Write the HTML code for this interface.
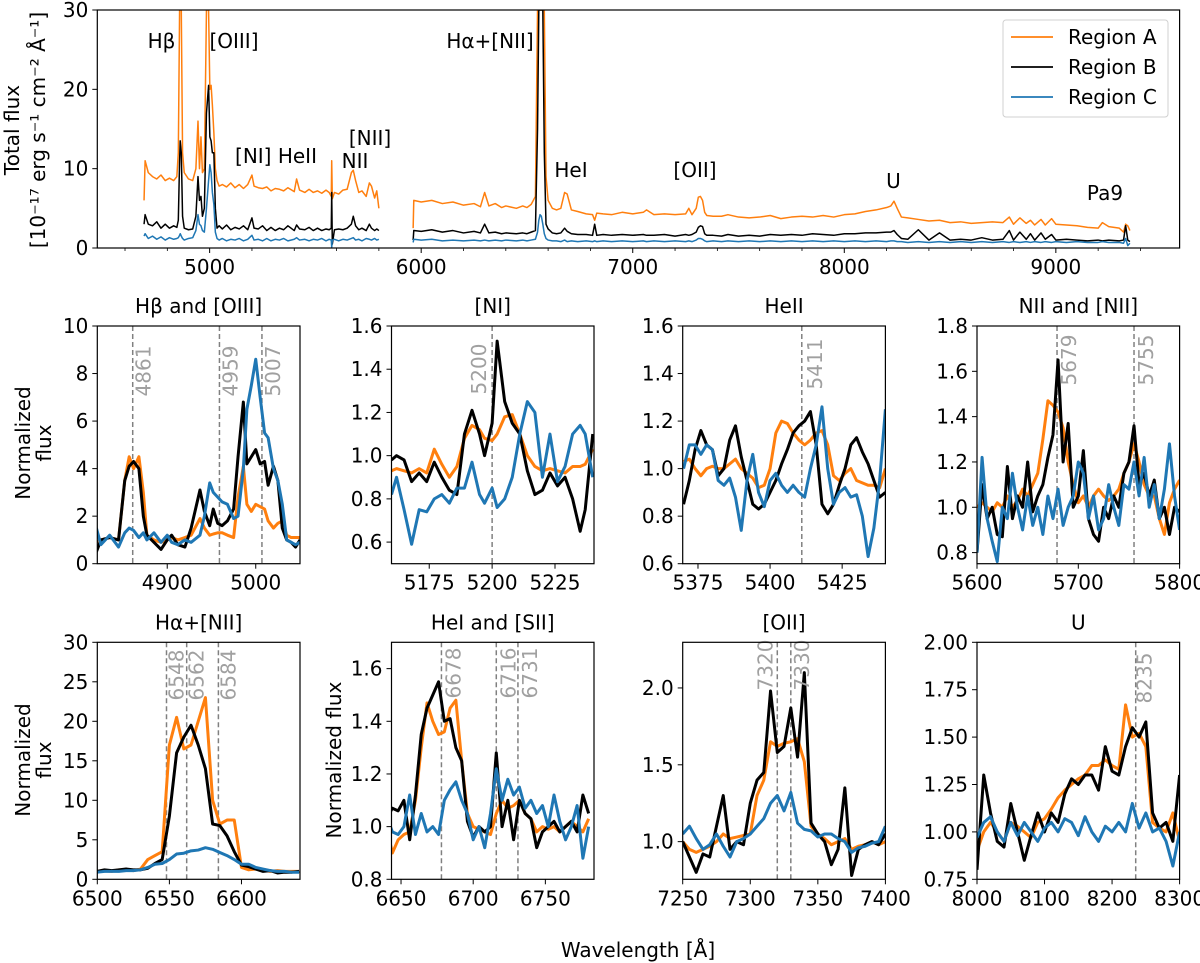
<!DOCTYPE html>
<html><head><meta charset="utf-8"><style>
html,body{margin:0;padding:0;background:#fff;}
svg{display:block;font-family:"DejaVu Sans","Liberation Sans",sans-serif;}
</style></head><body>
<svg id="fig" width="1200" height="963" viewBox="0 0 1200 963" xmlns="http://www.w3.org/2000/svg">
<defs id="defs"></defs>
</svg>
<script>
// ---------- TOP PANEL DATA ----------
const topLam1=[4690,4695,4710,4730,4750,4770,4790,4810,4830,4845,4852,4858,4861,4866,4872,4880,4900,4920,4935,4945,4952,4959,4966,4975,4985,4995,5001,5007,5013,5020,5027,5035,5045,5060,5080,5100,5120,5140,5160,5180,5200,5210,5230,5250,5270,5290,5310,5330,5350,5370,5400,5411,5425,5450,5470,5490,5510,5530,5550,5565,5575,5577,5580,5590,5610,5630,5650,5670,5679,5690,5705,5720,5740,5755,5765,5780,5790,5800];
const topA1=[6,11,9.5,9,8.7,9.2,8.5,8.8,8.5,9,12,30,30,30,12,9.5,8.7,8.5,10,16,10,14,9.5,10,30,30,20,20.5,18,14.5,10,8.5,7.8,8,7.7,8.2,7.6,8,7.5,8,9.2,7.8,7.6,7.5,7.7,7.2,7.5,7.4,7.2,7.6,7.1,8.7,7.3,7.0,7.4,7.0,7.2,6.9,7.3,7.0,6.5,11,6.2,7.0,6.8,7.3,7.4,9.5,9.8,8.5,7.0,7.2,6.5,8.2,7.8,6.3,7.2,5];
const topB1=[3,4.2,3,2.8,3.3,2.5,3.0,2.5,2.8,2.6,3.5,11,13.5,12,4,2.5,2.3,2.4,4,9,6,6.5,4,5,17,20.5,14,13.5,12,12,5,2.5,2.8,2.4,2.9,2.3,2.6,2.4,2.8,2.3,3.8,2.5,2.4,2.8,2.2,2.6,2.2,2.5,2.3,2.8,2.2,2.9,2.4,2.3,2.6,2.2,2.5,2.2,2.4,2.3,2.5,7,0.5,2.3,2.4,2.3,2.5,3.0,4.0,2.8,2.3,2.5,2.2,3.0,2.5,2.2,2.4,2.2];
const topC1=[1.5,1.8,1.2,1.5,1.1,1.4,1.0,1.3,1.1,1.2,1.3,1.6,1.8,1.5,1.2,1.0,1.2,1.3,2.2,4.2,3,2.8,2.2,2.0,5,8.5,10.5,9.5,7,5.5,2,1.2,1.0,1.2,0.9,1.1,1.0,1.2,0.9,1.1,1.6,1.0,1.1,0.9,1.2,0.9,1.1,1.0,1.2,0.9,1.1,1.3,1.0,1.1,0.9,1.1,1.0,1.2,0.9,1.1,1.0,0.1,1.0,1.1,0.9,1.1,1.0,1.2,1.3,1.0,1.1,0.9,1.2,1.1,1.0,1.2,1.0,1.1];
const topLam2=[5962,5965,6000,6050,6100,6150,6200,6250,6280,6300,6320,6350,6380,6400,6450,6480,6500,6520,6540,6550,6556,6562,6568,6575,6582,6590,6600,6620,6640,6660,6678,6690,6710,6740,6780,6810,6820,6830,6860,6900,6950,7000,7050,7065,7100,7150,7200,7250,7265,7280,7300,7310,7320,7330,7340,7350,7380,7420,7450,7500,7550,7600,7650,7700,7750,7800,7850,7900,7950,8000,8050,8100,8150,8200,8220,8235,8250,8270,8300,8350,8400,8450,8500,8550,8600,8650,8700,8750,8780,8800,8830,8860,8880,8900,8930,8950,8980,9000,9050,9100,9150,9200,9220,9250,9300,9320,9330,9340,9350];
const topA2=[2.5,6,5.8,6.0,5.6,5.8,5.4,5.6,5.2,7,5.3,5.6,5.1,5.3,5.0,5.3,5.1,5.5,6.5,30,30,30,30,30,30,9,6,5,4.8,5,7,6.8,4.8,4.6,4.3,4.2,3.5,4.4,4.3,4.2,4.5,4.3,4.5,4.8,4.2,4.3,4.2,4.3,5.0,4.2,5.0,6.4,6.5,6.0,4.5,4.1,4.0,4.0,4.2,3.9,3.8,3.9,4.1,3.7,3.9,4.0,3.9,4.1,3.9,4.2,4.3,4.6,4.8,5.1,5.3,5.9,5.0,3.9,3.8,3.6,3.4,3.5,3.2,3.3,3.1,3.2,3.3,3.2,3.9,3.0,3.8,3.1,3.5,2.9,3.6,2.9,3.7,3.0,2.9,2.8,2.6,2.5,3.2,2.7,2.5,2.0,3.0,2.8,2.2];
const topB2=[1.0,2.2,2.1,2.3,2.0,2.2,1.9,2.1,1.9,3.0,1.9,2.0,1.8,1.9,1.8,1.9,1.8,2.0,2.2,15,30,30,30,30,12,3,2.4,1.9,1.8,1.9,2.5,2.1,1.8,1.7,1.7,1.6,3.0,1.6,1.7,1.6,1.7,1.6,1.7,1.6,1.6,1.7,1.5,1.7,1.6,1.7,2.0,2.6,2.8,2.7,1.8,1.6,1.6,1.5,1.7,1.5,1.6,1.5,1.7,1.6,1.7,1.6,1.8,1.7,1.6,1.8,1.8,1.9,1.9,2.0,2.0,2.2,1.7,1.2,1.1,2.3,1.0,1.9,1.0,1.1,1.0,1.3,1.0,1.1,2.2,1.0,2.0,1.1,1.8,1.0,1.9,1.1,1.7,1.0,1.1,1.0,0.9,1.0,0.9,1.0,0.9,1.0,2.8,1.0,0.8];
const topC2=[0.7,1.1,1.0,1.1,0.9,1.0,0.9,1.0,0.9,1.0,0.9,1.0,0.9,1.0,0.9,1.0,0.9,1.0,1.1,2.0,3.5,4.2,4.0,3.0,1.8,1.2,1.0,0.9,0.9,0.8,1.0,0.8,0.9,0.8,0.9,0.8,0.9,0.8,0.9,0.8,0.9,0.8,0.9,0.8,0.9,0.8,0.9,0.8,0.9,0.8,1.0,1.2,1.2,1.1,0.9,0.8,0.9,0.8,0.9,0.8,0.9,0.8,0.9,0.8,0.9,0.8,0.9,0.8,0.9,0.8,0.9,0.8,0.9,0.8,0.9,0.9,0.8,0.8,0.7,0.8,0.7,0.8,0.7,0.8,0.7,0.8,0.7,0.8,0.7,0.8,0.7,0.8,0.7,0.8,0.7,0.8,0.7,0.8,0.7,0.8,0.7,0.7,0.8,0.7,0.7,0.6,1.2,0.3,0.6];
const topXTicks=[5000,6000,7000,8000,9000];
const topYTicks=[0,10,20,30];
const seriesNames=["Region A","Region B","Region C"];

// ---------- SMALL PANEL DATA ----------
const p1Lam=[4820,4825,4835,4845,4852,4857,4862,4868,4873,4877,4885,4893,4900,4905,4912,4920,4927,4937,4942,4948,4952,4957,4962,4968,4975,4980,4986,4990,4995,5000,5005,5010,5014,5020,5025,5030,5035,5040,5045,5050];
const p1A=[0.9,1.0,1.1,1.0,3.5,4.5,4.0,4.5,3.0,1.2,1.0,0.9,1.0,1.1,1.0,1.1,1.2,1.9,1.5,1.2,1.25,1.3,1.3,1.2,1.1,2.8,4.1,2.5,2.2,2.5,2.4,2.3,1.8,1.5,1.7,1.8,1.2,1.1,1.1,1.1];
const p1B=[0.5,1,1.1,1,3.5,4.1,4.3,4.0,2,1.2,0.9,0.6,1.0,1.2,0.8,0.7,1.5,3.1,2.2,1.6,2.3,1.7,1.6,1.8,2.3,4.5,6.8,4.2,4.5,4.8,4.2,4.3,3.3,4.1,3.5,1.5,1.0,0.9,0.7,1.0];
const p1C=[1.5,0.8,1.2,0.7,1.3,1.5,1.4,1.1,1.3,1.0,1.3,0.9,1.2,0.9,0.8,1.0,0.9,1.2,2.0,3.4,3.0,2.8,2.6,2.5,1.9,2.0,4.0,6.5,7.5,8.6,7.0,5.5,5.3,4.0,3.5,2.5,1.0,0.9,0.8,0.9];
const p1XTicks=[4900,5000]; const p1YTicks=[0,2,4,6,8,10]; const p1Lines=[4861,4959,5007];

const p2Lam=[5160,5162,5165,5168,5171,5174,5177,5180,5183,5186,5189,5192,5195,5197,5200,5202,5205,5208,5211,5214,5217,5220,5223,5226,5229,5232,5235,5237,5240];
const p2A=[0.93,0.94,0.93,0.92,0.94,0.92,1.03,0.96,0.9,0.95,1.08,1.14,1.12,1.08,1.07,1.1,1.18,1.19,1.1,1.0,0.95,0.93,0.94,0.93,0.92,0.95,0.95,0.96,1.03];
const p2B=[0.98,1.0,0.98,0.88,0.92,0.88,0.97,0.9,0.84,0.82,1.1,1.21,1.1,1.0,1.15,1.53,1.25,1.15,1.1,0.93,0.82,0.84,0.92,0.86,0.9,0.8,0.65,0.75,1.1];
const p2C=[0.82,0.9,0.75,0.59,0.75,0.74,0.8,0.82,0.78,0.85,0.85,0.97,0.82,0.78,0.85,0.76,0.8,0.9,1.1,1.25,1.2,0.9,1.1,0.88,0.95,1.1,1.14,1.1,0.9];
const p2XTicks=[5175,5200,5225]; const p2YTicks=[0.6,0.8,1.0,1.2,1.4,1.6]; const p2Lines=[5200];

const p3Lam=[5370,5372,5374,5376,5378,5380,5382,5384,5386,5388,5390,5392,5394,5396,5398,5400,5402,5404,5406,5408,5410,5412,5414,5416,5418,5420,5422,5424,5426,5428,5430,5432,5434,5436,5438,5440];
const p3A=[1.03,1.04,1.0,0.97,1.0,1.01,1.0,1.0,1.02,1.04,1.0,0.98,0.96,0.92,0.93,1.0,1.15,1.2,1.19,1.15,1.12,1.1,1.12,1.15,1.16,1.1,0.97,0.95,0.98,1.0,0.95,0.94,0.93,0.93,0.92,1.0];
const p3B=[0.85,0.95,1.08,1.16,1.1,1.08,0.97,1.0,1.12,1.18,1.05,0.95,0.85,0.83,0.85,0.9,0.95,1.02,1.08,1.15,1.18,1.2,1.24,1.1,0.85,0.81,0.85,0.93,1.0,1.1,1.13,1.07,1.02,0.95,0.88,0.9];
const p3C=[1.0,1.1,1.1,1.06,1.1,1.08,0.95,0.93,0.96,0.88,0.74,0.95,1.06,0.9,0.84,0.95,0.98,0.93,0.9,0.93,0.9,0.88,1.0,1.1,1.26,1.0,0.85,0.9,0.92,0.88,0.89,0.8,0.63,0.75,0.95,1.25];
const p3XTicks=[5375,5400,5425]; const p3YTicks=[0.6,0.8,1.0,1.2,1.4,1.6]; const p3Lines=[5411];

const p4Lam=[5600,5605,5610,5615,5620,5625,5630,5635,5640,5645,5650,5655,5660,5665,5670,5675,5680,5685,5690,5695,5700,5705,5710,5715,5720,5725,5730,5735,5740,5745,5750,5755,5760,5765,5770,5775,5780,5785,5790,5795,5800];
const p4A=[1.0,1.02,1.0,0.98,1.02,1.0,1.05,1.0,1.03,1.08,1.05,1.1,1.15,1.3,1.47,1.45,1.42,1.35,1.2,1.1,1.02,1.05,1.0,1.05,1.08,1.05,1.03,1.05,1.08,1.15,1.2,1.28,1.2,1.1,1.05,1.05,0.95,0.88,1.02,1.08,1.12];
const p4B=[0.8,1.1,0.95,1.0,0.88,0.87,1.18,0.95,1.05,1.0,1.2,0.98,1.05,1.1,1.22,1.32,1.65,1.2,1.37,1.0,1.05,1.25,0.95,0.88,0.85,1.0,0.95,1.05,1.0,1.15,1.2,1.36,1.1,1.15,1.05,1.12,0.95,1.0,0.88,1.0,0.98];
const p4C=[0.8,1.22,0.95,0.85,0.76,1.0,0.95,1.15,1.0,0.9,1.05,0.92,1.0,0.88,1.05,0.95,1.08,0.92,1.0,1.05,1.2,1.15,0.95,1.05,0.9,0.95,1.1,1.0,0.92,1.1,1.08,1.2,1.05,1.22,1.0,1.1,0.95,1.08,1.28,1.05,0.9];
const p4XTicks=[5600,5700,5800]; const p4YTicks=[0.8,1.0,1.2,1.4,1.6,1.8]; const p4Lines=[5679,5755];

const p5Lam=[6500,6505,6510,6515,6520,6525,6530,6535,6540,6545,6550,6555,6560,6565,6570,6575,6580,6585,6590,6595,6600,6605,6610,6615,6620,6625,6630,6635,6640];
const p5A=[1.0,1.1,1.0,1.2,1.2,1.1,1.3,2.5,3.0,3.5,17,20.5,16.5,17,20,23,10,7,7.5,7.5,1.5,1.2,1.3,1.2,1.0,1.1,1.0,1.0,1.0];
const p5B=[1.0,1.2,1.1,1.2,1.3,1.2,1.2,1.4,2.0,2.5,8,16,18,19.5,17,14,7,6.8,5.5,3.5,1.8,1.6,1.3,1.0,1.1,0.8,0.9,0.9,1.0];
const p5C=[0.9,1.0,1.0,1.0,1.1,1.1,1.2,1.5,1.9,2.0,2.5,3.2,3.3,3.6,3.7,4.0,3.8,3.4,3.0,2.5,1.9,1.9,1.5,1.3,1.1,1.0,1.0,0.9,0.9];
const p5XTicks=[6500,6550,6600]; const p5YTicks=[0,5,10,15,20,25,30]; const p5Lines=[6548,6562,6584];

const p6Lam=[6640,6644,6648,6652,6656,6660,6664,6668,6672,6676,6680,6684,6688,6692,6696,6700,6704,6708,6712,6716,6720,6724,6728,6732,6736,6740,6744,6748,6752,6756,6760,6764,6768,6772,6776,6780];
const p6A=[1.0,0.9,0.95,0.97,0.98,1.1,1.3,1.47,1.4,1.35,1.36,1.45,1.48,1.25,1.05,1.0,0.99,0.98,0.97,1.05,1.1,1.07,1.08,1.1,1.05,1.03,0.98,1.0,0.99,1.0,0.98,1.0,1.02,1.0,0.98,1.03];
const p6B=[1.03,1.07,1.06,1.1,0.95,1.12,1.35,1.45,1.5,1.55,1.4,1.41,1.3,1.25,1.02,0.96,1.0,0.98,1.0,1.28,1.0,1.1,0.95,1.1,1.05,1.03,0.92,0.98,1.0,1.02,0.98,1.0,1.02,0.98,1.12,1.05];
const p6C=[1.04,0.98,0.97,1.0,1.12,0.97,1.05,0.98,1.0,0.97,1.1,1.14,1.17,1.1,1.05,0.95,1.0,0.92,1.05,1.22,1.1,1.18,1.12,1.15,1.07,1.1,1.05,1.08,1.0,1.12,1.02,0.95,1.0,1.08,0.88,1.0];
const p6XTicks=[6650,6700,6750]; const p6YTicks=[0.8,1.0,1.2,1.4,1.6]; const p6Lines=[6678,6716,6731];

const p7Lam=[7250,7255,7260,7265,7270,7275,7280,7285,7290,7295,7300,7305,7310,7315,7320,7325,7330,7335,7340,7345,7350,7355,7360,7365,7370,7375,7380,7385,7390,7395,7400];
const p7A=[1.0,0.95,0.93,0.95,0.97,1.0,1.05,1.02,1.03,1.04,1.05,1.3,1.4,1.65,1.62,1.64,1.65,1.67,1.52,1.1,1.05,1.02,0.98,1.0,1.02,0.95,0.97,0.98,1.0,0.98,1.0];
const p7B=[1.0,0.9,0.8,0.92,0.9,1.1,1.3,0.95,1.0,0.98,1.25,1.4,1.45,1.98,1.58,1.62,1.87,1.55,2.1,1.12,1.05,1.0,0.85,0.95,1.35,0.78,0.95,0.98,1.0,0.98,1.05];
const p7C=[1.05,1.1,1.02,0.95,0.98,1.05,0.97,0.9,1.0,1.02,1.05,1.1,1.15,1.25,1.3,1.2,1.32,1.12,1.08,1.07,1.03,1.05,1.05,1.02,1.0,0.93,0.96,0.97,0.99,1.0,1.1];
const p7XTicks=[7250,7300,7350,7400]; const p7YTicks=[1.0,1.5,2.0]; const p7Lines=[7320,7330];

const p8Lam=[8000,8010,8020,8030,8040,8050,8060,8070,8080,8090,8100,8110,8120,8130,8140,8150,8160,8170,8180,8190,8200,8210,8220,8230,8240,8250,8260,8270,8280,8290,8300];
const p8A=[0.9,1.0,1.05,1.0,0.95,1.05,1.03,1.0,0.97,1.05,1.07,1.12,1.18,1.22,1.25,1.28,1.3,1.35,1.35,1.38,1.35,1.33,1.67,1.5,1.52,1.45,1.05,1.02,1.0,1.1,0.95];
const p8B=[0.8,1.3,1.1,0.95,0.92,1.15,1.0,0.85,0.98,1.1,1.0,1.1,1.05,1.2,1.28,1.25,1.3,1.3,1.22,1.45,1.32,1.3,1.45,1.55,1.5,1.58,1.1,1.02,1.05,0.95,1.3];
const p8C=[0.97,1.05,1.08,1.0,0.95,1.05,0.98,1.05,1.0,0.95,1.02,1.05,1.0,1.07,1.05,0.98,1.08,1.0,0.95,1.03,1.0,1.05,1.0,1.15,1.02,1.1,1.0,1.02,0.95,0.82,1.0];
const p8XTicks=[8000,8100,8200,8300]; const p8YTicks=[0.75,1.0,1.25,1.5,1.75,2.0]; const p8Lines=[8235];

const COLORS=["#ff7f0e","#000000","#1f77b4"];
const NS="http://www.w3.org/2000/svg";
const svg=document.getElementById('fig');
const defs=document.getElementById('defs');
function mk(tag,attrs,parent){const e=document.createElementNS(NS,tag);for(const k in attrs)e.setAttribute(k,attrs[k]);(parent||svg).appendChild(e);return e;}
function txt(s,attrs,parent){const e=mk('text',attrs,parent);e.textContent=s;return e;}
const FS=20;

function drawPanel(p){
  const g=mk('g',{});
  
  
  const sx=v=>p.x0+(v-p.xmin)/(p.xmax-p.xmin)*(p.x1-p.x0);
  const sy=v=>p.y1-(v-p.ymin)/(p.ymax-p.ymin)*(p.y1-p.y0);
  const cid='clip-'+p.name;
  const cp=mk('clipPath',{id:cid},defs);
  mk('rect',{x:p.x0,y:p.y0,width:p.x1-p.x0,height:p.y1-p.y0},cp);
  const plot=mk('g',{'clip-path':'url(#'+cid+')'},g);
  (p.lines||[]).forEach((L,i)=>{
    const l=mk('line',{x1:sx(L),x2:sx(L),y1:p.y0,y2:p.y1,stroke:'#808080','stroke-width':1.5,'stroke-dasharray':'5,3'},plot);
    
    
  });
  p.series.forEach((s,si)=>{
    s.forEach((seg)=>{
      const n=Math.min(seg.lam.length,seg.vals.length);
      let d='';
      for(let i=0;i<n;i++){d+=(i?'L':'M')+sx(seg.lam[i]).toFixed(2)+','+sy(seg.vals[i]).toFixed(2);}
      const path=mk('path',{d:d,fill:'none',stroke:COLORS[si],'stroke-width':p.lw,'stroke-linejoin':'round'},plot);
      
      
    });
  });
  (p.lines||[]).forEach((L,i)=>{
    const cx=sx(L)+p.labelDx[i], cy=p.labelCy;
    const t=txt(String(L),{x:cx,y:cy,fill:'#a0a0a0','font-size':FS,'text-anchor':'middle','dominant-baseline':'central',transform:'rotate(-90 '+cx+' '+cy+')'},g);
    
    
  });
  const fr=mk('rect',{x:p.x0,y:p.y0,width:p.x1-p.x0,height:p.y1-p.y0,fill:'none',stroke:'#000','stroke-width':1.2},g);
  
  
  p.xticks.forEach(v=>{
    const x=sx(v);
    mk('line',{x1:x,x2:x,y1:p.y1,y2:p.y1+5,stroke:'#000','stroke-width':1},g);
    const t=txt(String(v),{x:x,y:p.y1+26,'font-size':FS,'text-anchor':'middle'},g);
    
    
  });
  (p.xminor||[]).forEach(v=>{
    const x=sx(v);
    mk('line',{x1:x,x2:x,y1:p.y1,y2:p.y1+3,stroke:'#000','stroke-width':0.8},g);
  });
  p.yticks.forEach(v=>{
    const y=sy(v);
    mk('line',{x1:p.x0-5,x2:p.x0,y1:y,y2:y,stroke:'#000','stroke-width':1},g);
    const t=txt(v.toFixed(p.ydec),{x:p.x0-9,y:y+7,'font-size':FS,'text-anchor':'end'},g);
    
    
  });
  if(p.title){
    const t=txt(p.title,{x:(p.x0+p.x1)/2,y:p.y0-13,'font-size':FS,'text-anchor':'middle'},g);
    
    
  }
  return {sx,sy};
}

const topMinor=[];
for(let v=4600;v<=9400;v+=200){if(v%1000!==0)topMinor.push(v);}
drawPanel({name:'overview-panel',x0:97.3,x1:1179.6,y0:10,y1:248,xmin:4469,xmax:9585,ymin:0,ymax:30,
  xticks:topXTicks,xminor:topMinor,yticks:topYTicks,ydec:0,lw:1.5,
  series:[[{lam:topLam1,vals:topA1},{lam:topLam2,vals:topA2}],[{lam:topLam1,vals:topB1},{lam:topLam2,vals:topB2}],[{lam:topLam1,vals:topC1},{lam:topLam2,vals:topC2}]]});

const ann=[["Hβ",161.5,48],["[OIII]",234,48],["Hα+[NII]",490,48],["[NI] HeII",276,163],["[NII]",370,145],["NII",355,168],["HeI",571,177],["[OII]",695,177],["U",893.5,188],["Pa9",1105,200]];
ann.forEach(a=>{
  const t=txt(a[0],{x:a[1],y:a[2],'font-size':FS,'text-anchor':'middle'});
  
  
});
const lg=mk('g',{});


mk('rect',{x:1003,y:20,width:165,height:97,rx:3,fill:'#fff',stroke:'#d0d0d0','stroke-width':1},lg);
seriesNames.forEach((nm,i)=>{
  const y=37+i*30;
  const l=mk('line',{x1:1011,x2:1053,y1:y,y2:y,stroke:COLORS[i],'stroke-width':1.8},lg);
  
  
  const t=txt(nm,{x:1068,y:y+7,'font-size':FS},lg);
  
  
});
[["Total flux",12],["[10⁻¹⁷ erg s⁻¹ cm⁻² Å⁻¹]",38]].forEach(a=>{
  const t=txt(a[0],{x:a[1],y:130,'font-size':FS,'text-anchor':'middle','dominant-baseline':'central',transform:'rotate(-90 '+a[1]+' 130)'});
  
  
});

const R1={y0:326,y1:563.7}, R2={y0:642.3,y1:879.3};
const C=[[97.3,300],[391.5,594],[682.7,885.4],[977,1179.6]];
function S(l,a,b,c){return [[{lam:l,vals:a}],[{lam:l,vals:b}],[{lam:l,vals:c}]];}
drawPanel({name:'hbeta-oiii-panel',title:'Hβ and [OIII]',x0:C[0][0],x1:C[0][1],...R1,xmin:4821,xmax:5050,ymin:0,ymax:10,xticks:p1XTicks,yticks:p1YTicks,ydec:0,lw:3,series:S(p1Lam,p1A,p1B,p1C),lines:p1Lines,labelDx:[11,11,11],labelCy:371});
drawPanel({name:'ni-panel',title:'[NI]',x0:C[1][0],x1:C[1][1],...R1,xmin:5160,xmax:5240.5,ymin:0.5,ymax:1.6,xticks:p2XTicks,yticks:p2YTicks,ydec:1,lw:3,series:S(p2Lam,p2A,p2B,p2C),lines:p2Lines,labelDx:[-13],labelCy:369});
drawPanel({name:'heii-panel',title:'HeII',x0:C[2][0],x1:C[2][1],...R1,xmin:5369.7,xmax:5440,ymin:0.6,ymax:1.6,xticks:p3XTicks,yticks:p3YTicks,ydec:1,lw:3,series:S(p3Lam,p3A,p3B,p3C),lines:p3Lines,labelDx:[13],labelCy:364});
drawPanel({name:'nii-panel',title:'NII and [NII]',x0:C[3][0],x1:C[3][1],...R1,xmin:5600,xmax:5800,ymin:0.751,ymax:1.8,xticks:p4XTicks,yticks:p4YTicks,ydec:1,lw:3,series:S(p4Lam,p4A,p4B,p4C),lines:p4Lines,labelDx:[12,12],labelCy:360});
drawPanel({name:'halpha-panel',title:'Hα+[NII]',x0:C[0][0],x1:C[0][1],...R2,xmin:6500,xmax:6640.6,ymin:0,ymax:30,xticks:p5XTicks,yticks:p5YTicks,ydec:0,lw:3,series:S(p5Lam,p5A,p5B,p5C),lines:p5Lines,labelDx:[10,10,10],labelCy:675});
drawPanel({name:'hei-sii-panel',title:'HeI and [SII]',x0:C[1][0],x1:C[1][1],...R2,xmin:6643.4,xmax:6783.7,ymin:0.8,ymax:1.7,xticks:p6XTicks,yticks:p6YTicks,ydec:1,lw:3,series:S(p6Lam,p6A,p6B,p6C),lines:p6Lines,labelDx:[12,12,12],labelCy:673});
drawPanel({name:'oii-panel',title:'[OII]',x0:C[2][0],x1:C[2][1],...R2,xmin:7250,xmax:7400,ymin:0.755,ymax:2.297,xticks:p7XTicks,yticks:p7YTicks,ydec:1,lw:3,series:S(p7Lam,p7A,p7B,p7C),lines:p7Lines,labelDx:[-12,11],labelCy:665});
drawPanel({name:'u-panel',title:'U',x0:C[3][0],x1:C[3][1],...R2,xmin:8000,xmax:8300,ymin:0.75,ymax:2.0,xticks:p8XTicks,yticks:p8YTicks,ydec:2,lw:3,series:S(p8Lam,p8A,p8B,p8C),lines:p8Lines,labelDx:[9],labelCy:678});

function vlab(s,x,y,name){
  const t=txt(s,{x:x,y:y,'font-size':FS,'text-anchor':'middle','dominant-baseline':'central',transform:'rotate(-90 '+x+' '+y+')'});
  
  
}
vlab('Normalized',23,443,'row1-y-axis-title');
vlab('flux',44,443,'row1-y-axis-title-2');
vlab('Normalized',23,760,'row2-y-axis-title');
vlab('flux',44,760,'row2-y-axis-title-2');
vlab('Normalized flux',334,760,'hei-y-axis-title');
const xl=txt('Wavelength [Å]',{x:638,y:957,'font-size':FS,'text-anchor':'middle'});


</script>
</body></html>
